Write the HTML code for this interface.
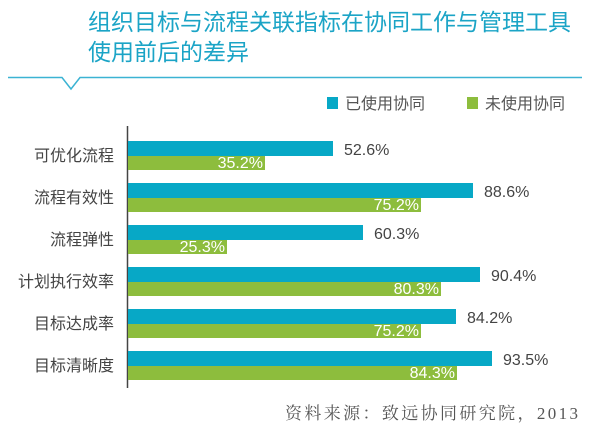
<!DOCTYPE html>
<html><head><meta charset="utf-8"><style>
body{margin:0;width:600px;height:434px;background:#fff;overflow:hidden;font-family:"Liberation Sans","Noto Sans CJK SC",sans-serif;}
</style></head><body>
<svg width="600" height="434" xmlns="http://www.w3.org/2000/svg" style="position:absolute;left:0;top:0">
<g font-family="'Liberation Sans','Noto Sans CJK SC',sans-serif">
<text x="88" y="30" font-size="23" fill="#1ba4c6">组织目标与流程关联指标在协同工作与管理工具</text>
<text x="88" y="60" font-size="23" fill="#1ba4c6">使用前后的差异</text>
<polyline points="8,77.5 62,77.5 71,89 80,77.5 582,77.5" fill="none" stroke="#3bb3d3" stroke-width="1.5"/>
<rect x="327" y="97" width="11" height="12" fill="#07a8c6"/>
<text x="345" y="109" font-size="16" fill="#555">已使用协同</text>
<rect x="467" y="97" width="11" height="12" fill="#8dbd3d"/>
<text x="485" y="109" font-size="16" fill="#555">未使用协同</text>
<line x1="127.5" y1="126" x2="127.5" y2="388" stroke="#444" stroke-width="1.5"/>
<g font-size="16" fill="#444" text-anchor="end">
<text x="114" y="161">可优化流程</text>
<text x="114" y="203">流程有效性</text>
<text x="114" y="245">流程弹性</text>
<text x="114" y="287">计划执行效率</text>
<text x="114" y="329">目标达成率</text>
<text x="114" y="371">目标清晰度</text>
</g>
<g fill="#07a8c6">
<rect x="128" y="141" width="205" height="15"/>
<rect x="128" y="183" width="345" height="15"/>
<rect x="128" y="225" width="235" height="15"/>
<rect x="128" y="267" width="352" height="15"/>
<rect x="128" y="309" width="328" height="15"/>
<rect x="128" y="351" width="364" height="15"/>
</g>
<g fill="#8dbd3d">
<rect x="128" y="156" width="137" height="14"/>
<rect x="128" y="198" width="293" height="14"/>
<rect x="128" y="240" width="99" height="14"/>
<rect x="128" y="282" width="313" height="14"/>
<rect x="128" y="324" width="293" height="14"/>
<rect x="128" y="366" width="329" height="14"/>
</g>
<g font-size="16" fill="#444">
<text x="344" y="155">52.6%</text>
<text x="484" y="197">88.6%</text>
<text x="374" y="239">60.3%</text>
<text x="491" y="281">90.4%</text>
<text x="467" y="323">84.2%</text>
<text x="503" y="365">93.5%</text>
</g>
<g font-size="16" fill="#fff" text-anchor="end">
<text x="263" y="168">35.2%</text>
<text x="419" y="210">75.2%</text>
<text x="225" y="252">25.3%</text>
<text x="439" y="294">80.3%</text>
<text x="419" y="336">75.2%</text>
<text x="455" y="378">84.3%</text>
</g>
<text x="285" y="419" font-size="17" fill="#555" textLength="293" lengthAdjust="spacing" font-family="'Liberation Serif','Noto Serif CJK SC',serif">资料来源：致远协同研究院，2013</text>
</g>
</svg>
</body></html>
